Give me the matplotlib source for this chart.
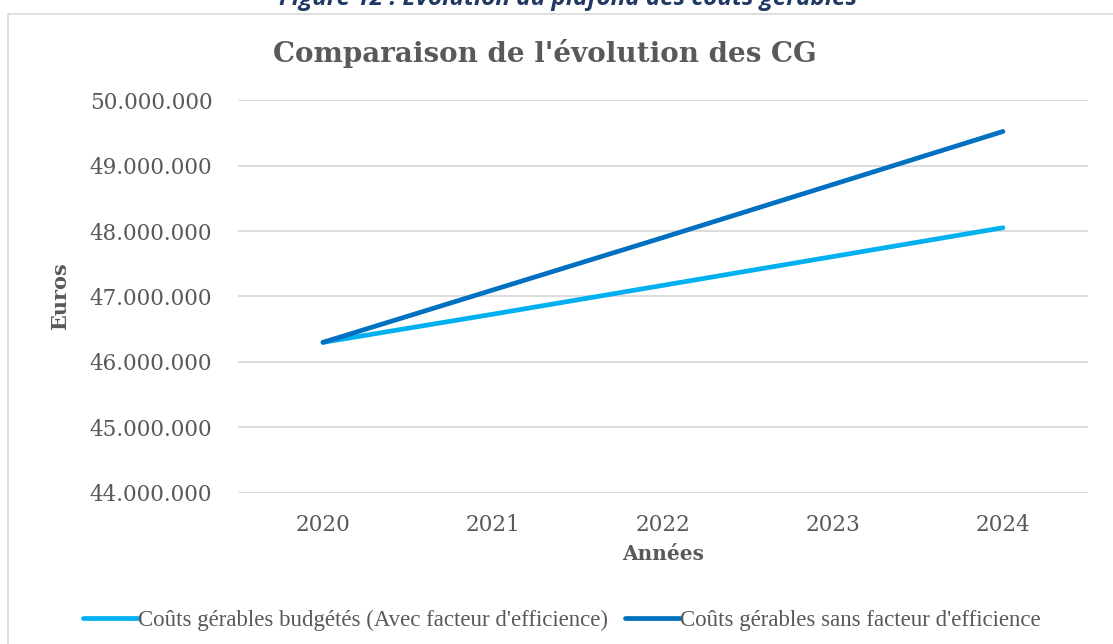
import matplotlib.pyplot as plt
import matplotlib.patches as mpatches

years = ['2020', '2021', '2022', '2023', '2024']
avec_efficience = [46.30e6, 46.73e6, 47.17e6, 47.61e6, 48.05e6]
sans_efficience = [46.30e6, 47.10e6, 47.90e6, 48.71e6, 49.52e6]
yticks = [44e6, 45e6, 46e6, 47e6, 48e6, 49e6, 50e6]

grey = '#595959'
serif = ['DejaVu Serif']

fig = plt.figure(figsize=(11.13, 6.44), dpi=100)
ax = fig.add_axes([0.2138, 0.2345, 0.7637, 0.6102])

# chart frame (cut off on right and bottom)
fig.patches.append(mpatches.Rectangle((8 / 1113, -0.1), 1.2, 1 - 14 / 644 + 0.1,
                                      transform=fig.transFigure, fill=False,
                                      edgecolor='#d9d9d9', linewidth=1.2))

fig.text(0.51, 1 - 5 / 644, "Figure 12 : Évolution du plafond des coûts gérables",
         ha='center', va='baseline', fontsize=17.5, fontweight='bold', style='italic',
         color='#1f3864', family='Open Sans')

x = range(len(years))
ax.plot(x, avec_efficience, color='#00b0f0', lw=3.4, solid_capstyle='round',
        label="Coûts gérables budgétés (Avec facteur d'efficience)")
ax.plot(x, sans_efficience, color='#0070c0', lw=3.4, solid_capstyle='round',
        label="Coûts gérables sans facteur d'efficience")

ax.set_xlim(-0.5, 4.5)
ax.set_ylim(44e6, 50e6)
ax.set_xticks(list(x))
ax.set_xticklabels(years)
ax.set_yticks(yticks)
ax.set_yticklabels([f'{v:,.0f}'.replace(',', '.') for v in yticks])
for lab in ax.get_xticklabels() + ax.get_yticklabels():
    lab.set_family(serif)
    lab.set_fontsize(15.5)
    lab.set_color(grey)
ax.tick_params(length=0)
ax.tick_params(axis='y', pad=18.5)
ax.tick_params(axis='x', pad=15)
ax.grid(axis='y', color='#d9d9d9', lw=1.3)
ax.set_axisbelow(True)
for s in ax.spines.values():
    s.set_visible(False)

ax.set_xlabel('Années', fontsize=14.5, fontweight='bold', color=grey, family=serif, labelpad=6)
ax.set_ylabel('Euros', fontsize=15, fontweight='bold', color=grey, family=serif, labelpad=14)
fig.text(545 / 1113, 1 - 54 / 644, "Comparaison de l'évolution des CG", fontsize=20,
         fontweight='bold', color=grey, family=serif, ha='center', va='center')

fig.legend(loc='center', bbox_to_anchor=(0.505, 1 - 620 / 644), ncol=2, frameon=False,
           prop={'family': 'Liberation Serif', 'size': 16.5}, labelcolor=grey,
           handlelength=2.4, handletextpad=0.0, columnspacing=0.74)

fig.savefig('out.png', dpi=100)
